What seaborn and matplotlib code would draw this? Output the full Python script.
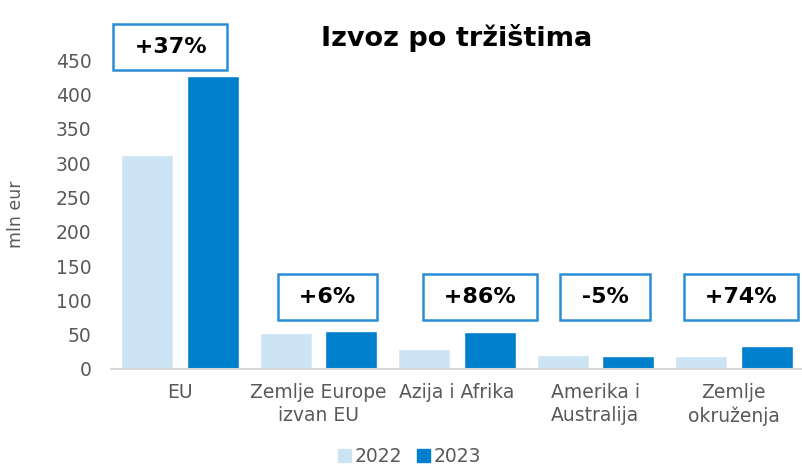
import pandas as pd
import matplotlib.pyplot as plt
import seaborn as sns

# data (mln eur)
markets = ["EU", "Zemlje Europe\nizvan EU", "Azija i Afrika", "Amerika i\nAustralija", "Zemlje\nokruženja"]
export_2022 = [312, 52.4, 29, 20.3, 19.3]
export_2023 = [427, 55.5, 54, 19.2, 33.6]
changes = ["+37%", "+6%", "+86%", "-5%", "+74%"]
years = ["2022", "2023"]

# box placement (layout only)
box_dx = [-0.07, 0.065, 0.165, 0.07, 0.05]
box_y = [469, 105, 105, 105, 105]

df = pd.DataFrame({
    "market": markets * 2,
    "year": [years[0]] * len(markets) + [years[1]] * len(markets),
    "value": export_2022 + export_2023,
})

sns.set_theme(style="white")
plt.rcParams["font.family"] = ["DejaVu Sans"]

fig, ax = plt.subplots(figsize=(8.03, 4.70), dpi=100)
sns.barplot(data=df, x="market", y="value", hue="year", hue_order=years,
            palette=["#cde4f4", "#0080cc"], width=0.946, gap=0.206,
            saturation=1, ax=ax, legend=False)

for i, txt in enumerate(changes):
    ax.text(i + box_dx[i], box_y[i], " " + txt + " ", ha="center", va="center",
            fontsize=16, fontweight="bold", color="black",
            bbox=dict(boxstyle="square,pad=0.6", facecolor="white",
                      edgecolor="#2a8ed6", linewidth=1.8))

ax.set_ylim(0, 450)
ax.set_yticks(range(0, 451, 50))
ax.set_xlim(-0.5, 4.5)
ax.tick_params(axis="y", labelsize=13.5, labelcolor="#595959", length=0, pad=14)
ax.tick_params(axis="x", labelsize=13.5, labelcolor="#595959", length=0, pad=10)
for lbl in ax.get_xticklabels():
    lbl.set_linespacing(1.3)
ax.set_xlabel("")
ax.set_ylabel("mln eur", fontsize=12.5, color="#595959", labelpad=22)
ax.set_title("Izvoz po tržištima", fontsize=19.5, fontweight="bold", color="black", pad=10)

for s in ["top", "right", "left"]:
    ax.spines[s].set_visible(False)
ax.spines["bottom"].set_color("#d9d9d9")
ax.spines["bottom"].set_linewidth(1.5)

handles = [plt.Rectangle((0, 0), 1, 1, color=c) for c in ["#cde4f4", "#0080cc"]]
leg = fig.legend(handles, years, loc="lower center", bbox_to_anchor=(0.51, -0.028), ncol=2,
                 frameon=False, fontsize=13.5, handlelength=0.7, handleheight=0.7,
                 handletextpad=0.2, columnspacing=0.8)
for t in leg.get_texts():
    t.set_color("#595959")

plt.subplots_adjust(left=0.138, right=1.0, top=0.872, bottom=0.215)
plt.savefig("out.png", dpi=100)
